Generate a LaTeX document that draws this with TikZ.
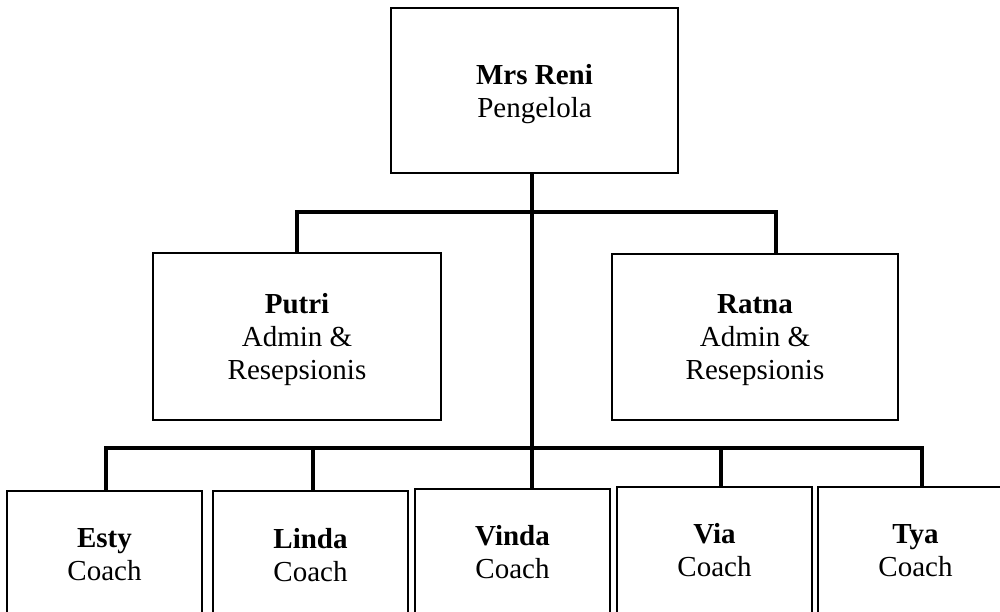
\documentclass[tikz,border=0pt]{standalone}
\usepackage{fontspec}
\setmainfont{Liberation Serif}
\begin{document}
\begin{tikzpicture}[x=0.75pt,y=-0.75pt,
  box/.style={draw=black,line width=1.5pt,rectangle,align=center,inner sep=0pt,
    text depth=0pt,font=\fontsize{21.75}{24.75}\selectfont},
  bw/.style={minimum width={#1*0.75pt}},
  bh/.style={minimum height={#1*0.75pt}},
  conn/.style={draw=black,line width=2.4pt}]
\clip (0,0) rectangle (1000,611);
\useasboundingbox (0,0) rectangle (1000,611);
% boxes
\node[box,bw=287,bh=165] (reni) at (534.5,90.5) {\textbf{Mrs Reni}\\Pengelola};
\node[box,bw=288,bh=167] (putri) at (297,336.5) {\textbf{Putri}\\Admin \&\\Resepsionis};
\node[box,bw=286,bh=166] (ratna) at (755,337) {\textbf{Ratna}\\Admin \&\\Resepsionis};
\node[box,bw=195,bh=127] (esty) at (104.5,554.5) {\textbf{Esty}\\Coach};
\node[box,bw=195,bh=127] (linda) at (310.5,554.5) {\textbf{Linda}\\Coach};
\node[box,bw=195,bh=126] (vinda) at (512.5,552) {\textbf{Vinda}\\Coach};
\node[box,bw=195,bh=126] (via) at (714.5,550) {\textbf{Via}\\Coach};
\node[box,bw=195,bh=126] (tya) at (915.5,550) {\textbf{Tya}\\Coach};
% bus coordinates
\coordinate (ub1) at (297,212);
\coordinate (ub2) at (776,212);
\coordinate (lb1) at (106,448);
\coordinate (lb2) at (313,448);
\coordinate (lb4) at (721,448);
\coordinate (lb5) at (922,448);
\coordinate (mv) at (532,173);
% connectors
\draw[conn] (mv) -- (mv |- vinda.north);
\draw[conn,line cap=rect] (ub1 |- putri.north) -- (ub1) -- (ub2) -- (ub2 |- ratna.north);
\draw[conn,line cap=rect] (lb1) -- (lb5);
\draw[conn] (lb1) -- (lb1 |- esty.north);
\draw[conn] (lb2) -- (lb2 |- linda.north);
\draw[conn] (lb4) -- (lb4 |- via.north);
\draw[conn] (lb5) -- (lb5 |- tya.north);
\end{tikzpicture}
\end{document}
